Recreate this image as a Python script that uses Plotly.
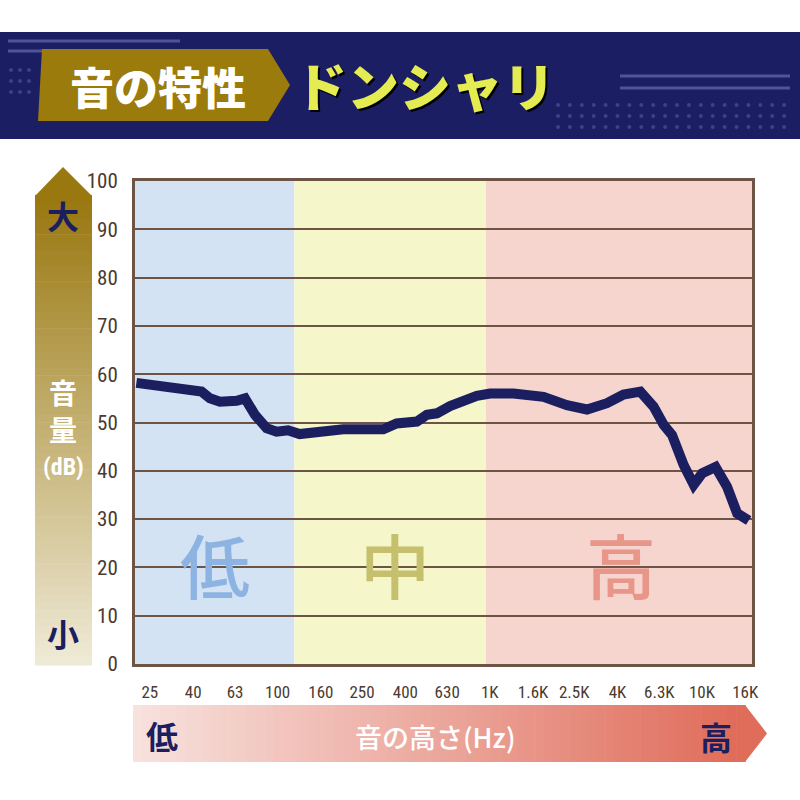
import plotly.graph_objects as go
import numpy as np

# ---------------- data ----------------
tick_freqs = [25, 40, 63, 100, 160, 250, 400, 630, 1000, 1600, 2500, 4000, 6300, 10000, 16000]
tick_labels = ["25", "40", "63", "100", "160", "250", "400", "630", "1K", "1.6K", "2.5K", "4K", "6.3K", "10K", "16K"]

curve_freq = [21.6, 43.8, 48.0, 53.5, 64.1, 70.2, 78.2, 88.8, 98.9, 112, 127, 204, 315, 364, 453,
              505, 563, 650, 869, 1004, 1294, 1792, 2310, 2872, 3567, 4271, 5124, 5918, 6604,
              7230, 8201, 9144, 10030, 11590, 13130, 14650, 16610]
curve_db = [58.2, 56.4, 55.0, 54.3, 54.5, 55.0, 51.6, 48.8, 48.1, 48.4, 47.6, 48.6, 48.6, 49.8, 50.2,
            51.6, 51.9, 53.4, 55.5, 56.0, 56.0, 55.3, 53.6, 52.7, 54.0, 55.8, 56.4, 53.3, 49.5,
            47.4, 41.2, 37.1, 39.5, 40.8, 36.7, 31.2, 29.7]

band_edges = [120, 960]          # Hz boundaries between low / mid / high
band_names = ["低", "中", "高"]

# ---------------- geometry helpers ----------------
W, H = 800, 800
L, R, T, B = 135, 752, 181, 664
PW, PH = R - L, B - T


def px(x):
    return (x - L) / PW


def py(y):
    return (B - y) / PH


NAVY = "#1b1e5f"
COND = "Roboto Condensed, DejaVu Sans Condensed, Liberation Sans Narrow, Roboto, sans-serif"
fig = go.Figure()

fig.add_trace(go.Scatter(
    x=curve_freq, y=curve_db, mode="lines",
    line=dict(color=NAVY, width=10),
    hoverinfo="skip", showlegend=False,
))

shapes = []
annotations = []


def ann(text, x, y, size, color, family="Noto Sans CJK JP", weight=700, **kw):
    f = dict(family=family, size=size, color=color, weight=weight)
    f.update(kw)
    annotations.append(dict(text=text, xref="paper", yref="paper", x=px(x), y=py(y),
                            xanchor="center", yanchor="middle", showarrow=False, font=f))


# background bands (plot area)
xr_lo = 10 ** (np.log10(25) - 0.35 * 0.2)
xr_hi = 10 ** (np.log10(25) + 14.19 * 0.2)
band_colors = ["#d4e3f4", "#f5f6c9", "#f6d5cf"]
edges = [xr_lo] + band_edges + [xr_hi]
for i in range(3):
    shapes.append(dict(type="rect", xref="x", yref="paper", x0=edges[i], x1=edges[i + 1],
                       y0=0, y1=1, fillcolor=band_colors[i], line=dict(width=0), layer="below"))

# big band labels
band_label_colors = ["#8db3e2", "#c6bf6e", "#e9968a"]
band_label_x = [215, 395, 621]
for name, c, xx in zip(band_names, band_label_colors, band_label_x):
    ann(name, xx, 563, 70, c, weight=500)

# ---------------- header ----------------
shapes.append(dict(type="rect", xref="paper", yref="paper", x0=px(0), x1=px(800), y0=py(32), y1=py(139),
                   fillcolor="#1b1e63", line=dict(width=0), layer="above"))
for (x0, x1, yy) in [(8, 180, 41), (8, 45, 51), (620, 790, 76), (620, 790, 88)]:
    shapes.append(dict(type="line", xref="paper", yref="paper", x0=px(x0), x1=px(x1), y0=py(yy), y1=py(yy),
                       line=dict(color="#4e5494", width=3)))
for yy in [70, 81, 92]:
    for xx in [11, 20, 29]:
        shapes.append(dict(type="circle", xref="paper", yref="paper", x0=px(xx - 2), x1=px(xx + 2),
                           y0=py(yy - 2), y1=py(yy + 2), fillcolor="#3c4288", line=dict(width=0)))
for yy in [105, 116, 127]:
    for xx in np.arange(558, 792, 11.9):
        shapes.append(dict(type="circle", xref="paper", yref="paper", x0=px(xx - 2), x1=px(xx + 2),
                           y0=py(yy - 2), y1=py(yy + 2), fillcolor="#3c4288", line=dict(width=0)))
pent = [(42, 49), (268, 49), (290, 85), (268, 121), (38, 121)]
path = "M " + " L ".join(f"{px(a)},{py(b)}" for a, b in pent) + " Z"
shapes.append(dict(type="path", xref="paper", yref="paper", path=path, fillcolor="#9c7b0d",
                   line=dict(width=0)))
ann("音の特性", 158, 86, 44, "white", weight=900)
ann("ドンシャリ", 425, 84, 52, "#e5ec52", weight=900, shadow="2px 2px 0px #000000")

# ---------------- left vertical gradient arrow ----------------
top_c = np.array([0x9a, 0x78, 0x10])
bot_c = np.array([0xef, 0xea, 0xd6])
y_start, y_end, n = 195, 665, 60
step = (y_end - y_start) / n
for i in range(n):
    t = i / (n - 1)
    c = (top_c * (1 - t) + bot_c * t).astype(int)
    shapes.append(dict(type="rect", xref="paper", yref="paper", x0=px(35), x1=px(92),
                       y0=py(y_start + i * step), y1=py(y_start + (i + 1) * step + 0.6),
                       fillcolor=f"rgb({c[0]},{c[1]},{c[2]})", line=dict(width=0)))
tri = [(63, 167), (92, 196), (35, 196)]
shapes.append(dict(type="path", xref="paper", yref="paper",
                   path="M " + " L ".join(f"{px(a)},{py(b)}" for a, b in tri) + " Z",
                   fillcolor="rgb(154,120,16)", line=dict(width=0)))
ann("大", 63, 215, 32, NAVY)
ann("小", 63, 633, 32, NAVY)
ann("音", 63, 392, 28, "white")
ann("量", 63, 429, 28, "white")
ann("(dB)", 63, 467, 24, "white", family=COND)

# ---------------- bottom horizontal gradient arrow ----------------
left_c = np.array([0xf8, 0xe2, 0xde])
right_c = np.array([0xe0, 0x6c, 0x5a])
x_start, x_end, n = 133, 745, 70
step = (x_end - x_start) / n
for i in range(n):
    t = i / (n - 1)
    c = (left_c * (1 - t) + right_c * t).astype(int)
    shapes.append(dict(type="rect", xref="paper", yref="paper",
                       x0=px(x_start + i * step), x1=px(x_start + (i + 1) * step + 0.6),
                       y0=py(705), y1=py(762),
                       fillcolor=f"rgb({c[0]},{c[1]},{c[2]})", line=dict(width=0)))
tri = [(745, 705), (767, 733.5), (745, 762)]
shapes.append(dict(type="path", xref="paper", yref="paper",
                   path="M " + " L ".join(f"{px(a)},{py(b)}" for a, b in tri) + " Z",
                   fillcolor="rgb(224,108,90)", line=dict(width=0)))
ann("低", 162, 735, 32, NAVY)
ann("高", 716, 736, 32, NAVY)
ann("音の高さ(Hz)", 435, 736, 27, "white", weight=500)

GRID = "#6d5444"
fig.update_layout(
    width=W, height=H,
    margin=dict(l=L, r=W - R, t=T, b=H - B, pad=0),
    paper_bgcolor="white", plot_bgcolor="rgba(0,0,0,0)",
    shapes=shapes, annotations=annotations,
    showlegend=False,
    xaxis=dict(type="log", range=[np.log10(xr_lo), np.log10(xr_hi)],
               tickvals=tick_freqs, ticktext=tick_labels, tickangle=0, showgrid=False, zeroline=False,
               showline=True, linecolor=GRID, linewidth=3, mirror=True, ticks="",
               ticklabelstandoff=11,
               tickfont=dict(family=COND, size=17, color="#4a3a2f")),
    yaxis=dict(range=[0, 100], dtick=10, showgrid=True, gridcolor=GRID, gridwidth=2, zeroline=False,
               showline=True, linecolor=GRID, linewidth=3, mirror=True, ticks="",
               ticklabelstandoff=10,
               tickfont=dict(family=COND, size=21, color="#4a3a2f")),
)

fig.write_html("out.html", config={"displayModeBar": False},
               post_script="document.body.style.margin='0';")
